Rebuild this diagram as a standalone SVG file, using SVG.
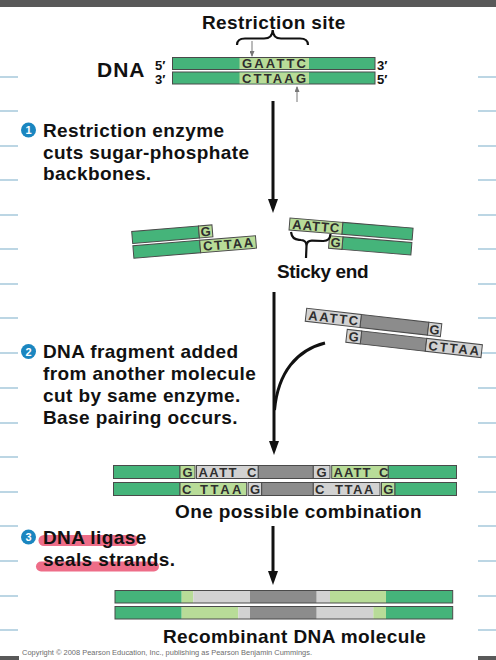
<svg xmlns="http://www.w3.org/2000/svg" width="496" height="660" viewBox="0 0 496 660">
<defs>
<style>
.lbl{font-family:"Liberation Sans",Arial,Helvetica,sans-serif;font-weight:bold;font-size:19px;fill:#111;letter-spacing:0.4px}
.base{font-family:"Liberation Sans",Arial,Helvetica,sans-serif;font-weight:bold;font-size:13px;fill:#2e2e2e}
.prime{font-family:"Liberation Sans",Arial,Helvetica,sans-serif;font-weight:bold;font-size:13px;fill:#111}
.num{font-family:"Liberation Sans",Arial,Helvetica,sans-serif;font-weight:bold;font-size:11px;fill:#fff}
.g{fill:#45b47a;stroke:#4a4a4a;stroke-width:1}
.lg{fill:#b8dc98;stroke:#4a4a4a;stroke-width:1}
.dg{fill:#8c8c8c;stroke:#4a4a4a;stroke-width:1}
.lgr{fill:#d2d2d2;stroke:#4a4a4a;stroke-width:1}
.outline{fill:none;stroke:#4a4a4a;stroke-width:1}
.margin{stroke:#bcd6e4;stroke-width:2}
.arrow{stroke:#111;stroke-width:3;fill:none}
.thin{stroke:#777;stroke-width:1;fill:none}
.brace{stroke:#111;stroke-width:2.2;fill:none}
.mark{fill:#1a86c0}
.hl{stroke:#ee6d88;stroke-width:11;stroke-linecap:round;fill:none}
</style>
<marker id="ah" viewBox="0 0 14 10" refX="8" refY="5" markerWidth="14" markerHeight="10" markerUnits="userSpaceOnUse" orient="auto">
<path d="M0,0 L14,5 L0,10 z" fill="#111"/>
</marker>
<marker id="ahs" viewBox="0 0 6 5" refX="5" refY="2.5" markerWidth="6" markerHeight="5" markerUnits="userSpaceOnUse" orient="auto">
<path d="M0,0 L6,2.5 L0,5 z" fill="#777"/>
</marker>
</defs>

<rect x="0" y="0" width="496" height="7" fill="#595959"/>
<rect x="0" y="656" width="19" height="4" fill="#595959"/>
<rect x="478" y="656" width="18" height="4" fill="#595959"/>

<g id="margins">
<path class="margin" d="M0,77H18M0,111H18M0,146H18M0,180H18M0,215H18M0,249H18M0,284H18M0,318H18M0,353H18M0,388H18M0,423H18M0,457H18M0,492H18M0,526H18M0,561H18M0,596H18M0,630H18"/>
<path class="margin" d="M478,77H496M478,111H496M478,146H496M478,180H496M478,215H496M478,249H496M478,284H496M478,318H496M478,353H496M478,388H496M478,423H496M478,457H496M478,492H496M478,526H496M478,561H496M478,596H496M478,630H496"/>
</g>

<g id="restriction-site">
<text class="lbl" x="202" y="29">Restriction site</text>
<path class="brace" d="M237,45 Q237,38.5 245,38.5 L264,38.5 Q272.5,38.5 272.7,30 Q273,38.5 281,38.5 L300,38.5 Q308,38.5 308,45"/>
<line class="thin" x1="252" y1="41" x2="252" y2="56" marker-end="url(#ahs)"/>
<line class="thin" x1="297" y1="102" x2="297" y2="87" marker-end="url(#ahs)"/>
</g>

<g id="dna">
<text class="lbl" x="97" y="77" style="font-size:21px;letter-spacing:1px">DNA</text>
<text class="prime" x="155" y="69.5">5′</text>
<text class="prime" x="155" y="84">3′</text>
<text class="prime" x="377" y="69.5">3′</text>
<text class="prime" x="377" y="84">5′</text>
<rect class="g" x="172.5" y="57.5" width="202.5" height="12"/>
<rect x="239.5" y="58" width="69.5" height="11" fill="#b8dc98"/>
<rect class="g" x="172.5" y="72" width="202.5" height="12"/>
<rect x="239.5" y="72.5" width="69.5" height="11" fill="#b8dc98"/>
<text class="base" x="274" y="68.3" text-anchor="middle" textLength="64" lengthAdjust="spacing">GAATTC</text>
<text class="base" x="274" y="82.8" text-anchor="middle" textLength="64" lengthAdjust="spacing">CTTAAG</text>
</g>

<g id="step1">
<circle class="mark" cx="28.5" cy="130" r="7.5"/>
<text class="num" x="28.5" y="134" text-anchor="middle">1</text>
<text class="lbl" x="43" y="137">Restriction enzyme</text>
<text class="lbl" x="43" y="158.7">cuts sugar-phosphate</text>
<text class="lbl" x="43" y="180.3">backbones.</text>
</g>

<g id="left-fragment" transform="translate(131.7,231.5) rotate(-4.7)">
<rect class="g" x="0" y="0" width="67" height="12"/>
<rect class="lg" x="67" y="0" width="13.5" height="12"/>
<text class="base" x="73.75" y="10.6" text-anchor="middle">G</text>
<rect class="g" x="0" y="14.3" width="67" height="12.5"/>
<rect class="lg" x="67" y="14.3" width="56" height="12.5"/>
<text class="base" x="95" y="25.2" text-anchor="middle" textLength="50" lengthAdjust="spacing">CTTAA</text>
</g>

<g id="right-fragment" transform="translate(290,218) rotate(4.7)">
<rect class="g" x="53" y="0" width="70.5" height="12"/>
<rect class="lg" x="0" y="0" width="53" height="12"/>
<text class="base" x="26.5" y="10.6" text-anchor="middle" textLength="47" lengthAdjust="spacing">AATTC</text>
<rect class="g" x="54.3" y="14.5" width="69.2" height="12.5"/>
<rect class="lg" x="40.9" y="14.5" width="13.4" height="12.5"/>
<text class="base" x="47.6" y="25.3" text-anchor="middle">G</text>
</g>

<g id="sticky-end">
<path class="brace" d="M291,232 Q292,239.5 299,239.8 L301,240 Q306.5,240.3 306.5,246 L306,258 M306.5,246 Q306.7,240.5 312,240.6 L323,241 Q330,241.2 330.5,234"/>
<text class="lbl" x="277" y="278" textLength="92" lengthAdjust="spacing">Sticky end</text>
</g>

<g id="step2">
<circle class="mark" cx="28.5" cy="351.5" r="7.5"/>
<text class="num" x="28.5" y="355.5" text-anchor="middle">2</text>
<text class="lbl" x="43" y="358">DNA fragment added</text>
<text class="lbl" x="43" y="380">from another molecule</text>
<text class="lbl" x="43" y="402">cut by same enzyme.</text>
<text class="lbl" x="43" y="424">Base pairing occurs.</text>
</g>

<g id="foreign-fragment" transform="translate(306.7,308.3) rotate(6.5)">
<rect class="dg" x="55" y="0" width="68" height="13"/>
<rect class="lgr" x="0" y="0" width="55" height="13"/>
<text class="base" x="27.5" y="11.3" text-anchor="middle" textLength="50" lengthAdjust="spacing">AATTC</text>
<rect class="lgr" x="123" y="0" width="13" height="13"/>
<text class="base" x="129.5" y="11.3" text-anchor="middle">G</text>
<rect class="dg" x="57.2" y="16.3" width="65.5" height="13"/>
<rect class="lgr" x="42.7" y="16.3" width="14.5" height="13"/>
<text class="base" x="50" y="27.6" text-anchor="middle">G</text>
<rect class="lgr" x="122.7" y="16.3" width="56" height="13"/>
<text class="base" x="150.7" y="27.6" text-anchor="middle" textLength="51" lengthAdjust="spacing">CTTAA</text>
</g>

<g id="combination">
<rect class="g" x="113.5" y="465.5" width="66.5" height="13"/>
<rect class="lg" x="180" y="465.5" width="15" height="13"/>
<rect class="lgr" x="196.5" y="465.5" width="61.8" height="13"/>
<rect class="dg" x="258.3" y="465.5" width="55" height="13"/>
<rect class="lgr" x="313.3" y="465.5" width="16.7" height="13"/>
<rect class="lg" x="331.7" y="465.5" width="56.6" height="13"/>
<rect class="g" x="388.3" y="465.5" width="68.2" height="13"/>
<text class="base" x="187.5" y="476.5" text-anchor="middle">G</text>
<text class="base" x="198.5" y="476.5" textLength="38" lengthAdjust="spacing">AATT</text>
<text class="base" x="247" y="476.5">C</text>
<text class="base" x="321.6" y="476.5" text-anchor="middle">G</text>
<text class="base" x="333.5" y="476.5" textLength="37" lengthAdjust="spacing">AATT</text>
<text class="base" x="379" y="476.5">C</text>

<rect class="g" x="113.5" y="482.5" width="66.5" height="13"/>
<rect class="lg" x="180" y="482.5" width="66.7" height="13"/>
<rect class="lgr" x="248.2" y="482.5" width="13.5" height="13"/>
<rect class="dg" x="261.7" y="482.5" width="51.6" height="13"/>
<rect class="lgr" x="313.3" y="482.5" width="66.7" height="13"/>
<rect class="lg" x="381.5" y="482.5" width="13.5" height="13"/>
<rect class="g" x="395" y="482.5" width="61.5" height="13"/>
<text class="base" x="182" y="493.5">C</text>
<text class="base" x="200" y="493.5" textLength="41.5" lengthAdjust="spacing">TTAA</text>
<text class="base" x="255" y="493.5" text-anchor="middle">G</text>
<text class="base" x="315" y="493.5">C</text>
<text class="base" x="335" y="493.5" textLength="38.3" lengthAdjust="spacing">TTAA</text>
<text class="base" x="388.2" y="493.5" text-anchor="middle">G</text>
<text class="lbl" x="175" y="518">One possible combination</text>
</g>

<g id="step3">
<path class="hl" d="M44,540.5 L133,540.5"/>
<path class="hl" d="M41,566.5 L154,566.5" style="stroke-width:10"/>
<circle class="mark" cx="28.5" cy="537" r="7.5"/>
<text class="num" x="28.5" y="541" text-anchor="middle">3</text>
<text class="lbl" x="43" y="544">DNA ligase</text>
<text class="lbl" x="43" y="566">seals strands.</text>
</g>

<g id="recombinant">
<rect x="115" y="590.5" width="66.7" height="12.5" fill="#45b47a"/>
<rect x="181.7" y="590.5" width="11.6" height="12.5" fill="#b8dc98"/>
<rect x="193.3" y="590.5" width="56.7" height="12.5" fill="#d2d2d2"/>
<rect x="250" y="590.5" width="66.7" height="12.5" fill="#8c8c8c"/>
<rect x="316.7" y="590.5" width="13.3" height="12.5" fill="#d2d2d2"/>
<rect x="330" y="590.5" width="56" height="12.5" fill="#b8dc98"/>
<rect x="386" y="590.5" width="66.7" height="12.5" fill="#45b47a"/>
<rect class="outline" x="115" y="590.5" width="337.7" height="12.5"/>
<rect x="115" y="606.5" width="66.7" height="12.5" fill="#45b47a"/>
<rect x="181.7" y="606.5" width="56.6" height="12.5" fill="#b8dc98"/>
<rect x="238.3" y="606.5" width="11.7" height="12.5" fill="#d2d2d2"/>
<rect x="250" y="606.5" width="66.7" height="12.5" fill="#8c8c8c"/>
<rect x="316.7" y="606.5" width="56.6" height="12.5" fill="#d2d2d2"/>
<rect x="373.3" y="606.5" width="12.7" height="12.5" fill="#b8dc98"/>
<rect x="386" y="606.5" width="66.7" height="12.5" fill="#45b47a"/>
<rect class="outline" x="115" y="606.5" width="337.7" height="12.5"/>
<text class="lbl" x="163" y="642.5">Recombinant DNA molecule</text>
</g>

<g id="connectors">
<line class="arrow" x1="273" y1="101" x2="273" y2="207" marker-end="url(#ah)"/>
<line class="arrow" x1="274" y1="292" x2="274" y2="449" marker-end="url(#ah)"/>
<path class="arrow" d="M325,343 C297,350 278,372 274.5,410"/>
<line class="arrow" x1="273" y1="526" x2="273" y2="579" marker-end="url(#ah)"/>
</g>

<text x="22" y="655" style="font-family:'Liberation Sans',Arial,sans-serif;font-size:7px;fill:#6d6d6d" textLength="290" lengthAdjust="spacingAndGlyphs">Copyright © 2008 Pearson Education, Inc., publishing as Pearson Benjamin Cummings.</text>
</svg>
